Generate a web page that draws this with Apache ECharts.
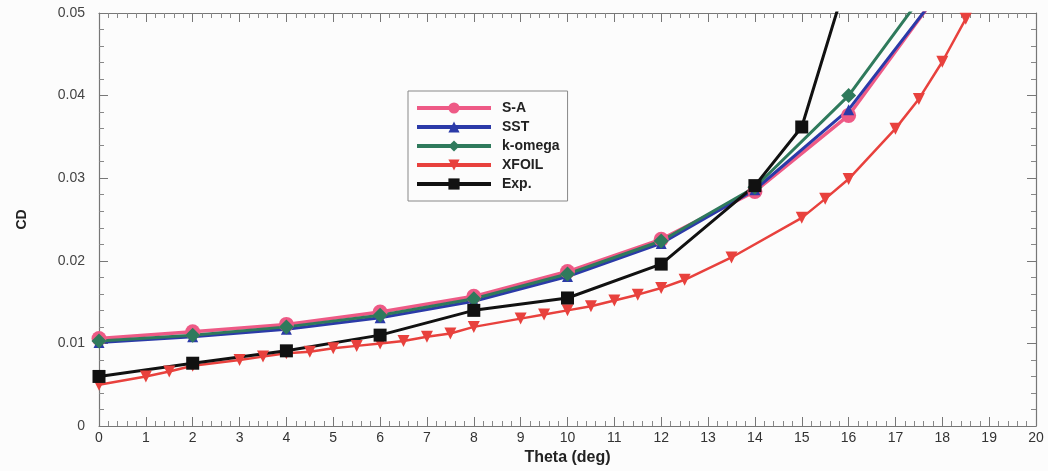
<!DOCTYPE html>
<html>
<head>
<meta charset="utf-8">
<script src="https://cdn.jsdelivr.net/npm/echarts@6/dist/echarts.min.js"></script>
<style>
html,body{margin:0;padding:0;background:#fcfcfc;}
#c{width:1048px;height:471px;}
</style>
</head>
<body>
<div id="c"></div>
<script>
// Data: [theta (deg), CD]
const saData = [[0,0.0106],[2,0.0114],[4,0.0123],[6,0.0138],[8,0.0157],[10,0.0187],[12,0.0226],[14,0.0284],[16,0.0376],[18,0.0531]];
const sstData = [[0,0.0101],[2,0.0108],[4,0.0117],[6,0.0131],[8,0.0151],[10,0.0181],[12,0.0221],[14,0.0286],[16,0.0383],[18,0.0530]];
const komegaData = [[0,0.0103],[2,0.0110],[4,0.0120],[6,0.0134],[8,0.0154],[10,0.0184],[12,0.0224],[14,0.0289],[16,0.0400],[18,0.0554]];
const xfoilTheta = [0,1,1.5,2,3,3.5,4,4.5,5,5.5,6,6.5,7,7.5,8,9,9.5,10,10.5,11,11.5,12,12.5,13.5,15,15.5,16,17,17.5,18,18.5];
const xfoilCD = [0.0050,0.0060,0.0066,0.0073,0.0080,0.0084,0.0088,0.0090,0.0094,0.0097,0.0100,0.0103,0.0108,0.0112,0.0120,0.0130,0.0135,0.0140,0.0145,0.0152,0.0159,0.0167,0.0177,0.0204,0.0252,0.0275,0.0299,0.0360,0.0396,0.0441,0.0493];
const expData = [[0,0.0060],[2,0.0076],[4,0.0091],[6,0.0110],[8,0.0140],[10,0.0155],[12,0.0196],[14,0.0291],[15,0.0362],[16,0.0548]];
const xTicks = {min:0, max:20, interval:1};
const yTicks = {min:0, max:0.05, interval:0.01};

const xfoilData = xfoilTheta.map((t,i)=>[t, xfoilCD[i]]);

const chart = echarts.init(document.getElementById('c'), null, {renderer:'canvas'});
const font = '"Liberation Sans Narrow", "Liberation Sans", Arial, sans-serif';
const axisLine = {show:true, onZero:false, lineStyle:{color:'#777', width:1.2}};
const axisTick = {show:true, inside:true, length:9, lineStyle:{color:'#777', width:1}};
const minorTick = {show:true, splitNumber:5, length:5, lineStyle:{color:'#888', width:1}};

chart.setOption({
  backgroundColor:'#fcfcfc',
  animation:false,
  grid:{left:99, right:12, top:13, bottom:44, containLabel:false},
  legend:{
    left:408, top:91, orient:'vertical',
    itemWidth:74, itemHeight:14, itemGap:5,
    padding:[10,8,10,7],
    borderColor:'#888', borderWidth:1,
    backgroundColor:'#fcfcfc',
    lineStyle:{width:4},
    textStyle:{fontFamily:'"Liberation Sans", Arial, sans-serif', fontWeight:'bold', fontSize:14, color:'#222', padding:[0,0,0,6]},
    data:['S-A','SST','k-omega','XFOIL','Exp.']
  },
  xAxis:[{
    type:'value', min:xTicks.min, max:xTicks.max, interval:xTicks.interval,
    name:'Theta (deg)', nameLocation:'middle', nameGap:24,
    nameTextStyle:{fontFamily:font, fontWeight:'bold', fontSize:16, color:'#222'},
    axisLine:axisLine, axisTick:axisTick, minorTick:minorTick,
    axisLabel:{fontFamily:font, fontSize:14, color:'#333', margin:5},
    splitLine:{show:false}
  },{
    type:'value', position:'top', min:xTicks.min, max:xTicks.max, interval:xTicks.interval,
    axisLine:axisLine, axisTick:axisTick, minorTick:minorTick,
    axisLabel:{show:false}, splitLine:{show:false}
  }],
  yAxis:[{
    type:'value', min:yTicks.min, max:yTicks.max, interval:yTicks.interval,
    name:'CD', nameLocation:'middle', nameGap:70, nameRotate:90,
    nameTextStyle:{fontFamily:'"Liberation Sans", Arial, sans-serif', fontWeight:'bold', fontSize:14, color:'#222'},
    axisLine:axisLine, axisTick:axisTick, minorTick:minorTick,
    axisLabel:{fontFamily:'"Liberation Sans", Arial, sans-serif', fontSize:14, color:'#444', margin:14,
      formatter:v=>v===0?'0':(+v.toFixed(2)).toString()},
    splitLine:{show:false}
  },{
    type:'value', position:'right', min:yTicks.min, max:yTicks.max, interval:yTicks.interval,
    axisLine:axisLine, axisTick:axisTick, minorTick:minorTick,
    axisLabel:{show:false}, splitLine:{show:false}
  }],
  series:[
    {name:'S-A', type:'line', data:saData, symbol:'circle', symbolSize:15,
     lineStyle:{color:'#ee5a86', width:3.5}, itemStyle:{color:'#ee5a86'}, clip:true},
    {name:'SST', type:'line', data:sstData, symbol:'triangle', symbolSize:11,
     lineStyle:{color:'#2b3aa8', width:3}, itemStyle:{color:'#2b3aa8'}, clip:true},
    {name:'k-omega', type:'line', data:komegaData, symbol:'diamond', symbolSize:15,
     lineStyle:{color:'#2f7a5c', width:3}, itemStyle:{color:'#2f7a5c'}, clip:true},
    {name:'XFOIL', type:'line', data:xfoilData, symbol:'triangle', symbolRotate:180, symbolSize:12,
     lineStyle:{color:'#e8413d', width:2.5}, itemStyle:{color:'#e8413d'}, clip:true},
    {name:'Exp.', type:'line', data:expData, symbol:'rect', symbolSize:13,
     lineStyle:{color:'#111', width:3}, itemStyle:{color:'#111'}, clip:true}
  ]
});
</script>
</body>
</html>
